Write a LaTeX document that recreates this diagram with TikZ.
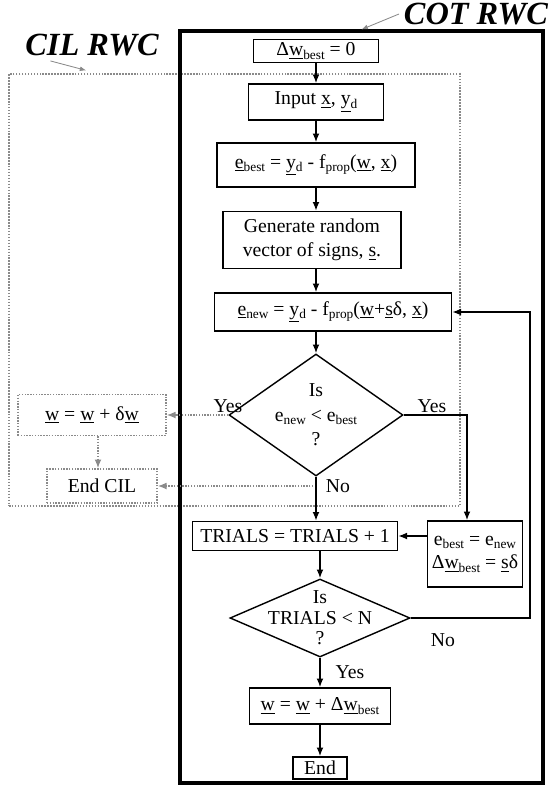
\documentclass[tikz,border=0pt]{standalone}
\usepackage{fontspec}
\setmainfont{Liberation Serif}
\usetikzlibrary{arrows.meta,positioning,shapes.geometric,calc}
\definecolor{cilgray}{HTML}{8A8A8A}
\newcommand{\sbs}[1]{\raisebox{-0.35ex}{\fontsize{9.5}{10}\selectfont #1}}
\tikzset{
  procbox/.style={rectangle, draw=black, line width=1pt, align=center,
                  inner sep=2pt, font=\fontsize{14}{17}\selectfont},
  cilbox/.style={procbox, draw=cilgray, densely dotted, line width=1pt},
  decision/.style={diamond, draw=black, line width=1pt, inner sep=0pt},
  dtext/.style={align=center, font=\fontsize{14}{17.5}\selectfont},
  lbl/.style={font=\fontsize{14}{17}\selectfont},
  rwc/.style={font=\fontsize{23}{23}\selectfont\bfseries\itshape},
  flow/.style={-{Latex[length=2.2mm,width=1.7mm]}, line width=1pt},
  cilflow/.style={flow, draw=cilgray, densely dotted, line width=1pt},
  pointer/.style={-{Latex[length=1.6mm,width=1.2mm]}, draw=cilgray, line width=0.6pt}
}
\begin{document}
\begin{tikzpicture}
\useasboundingbox (0,0) rectangle (13.775,-19.675);

% the two regions
\node[draw=cilgray, densely dotted, line width=1.1pt,
      minimum width=11.275cm, minimum height=10.8cm] (cilframe) at (5.8625,-7.25) {};
\node[draw=black, line width=2.2pt,
      minimum width=9.075cm, minimum height=18.8cm] (cotframe) at (9.0375,-10.175) {};
\node[rwc] (cillbl) at (2.3,-1.125) {CIL RWC};
\node[rwc] (cotlbl) at (11.9,-0.35) {COT RWC};
\draw[pointer] ([xshift=0.75cm]cillbl.south west) -- ([xshift=1.95cm,yshift=2pt]cilframe.north west);
\draw[pointer] (cotlbl.west) -- (cotframe.north);

% main loop
\node[procbox, minimum width=3.125cm, minimum height=0.575cm] (dw0) at (7.9,-1.275)
  {Δ\underline{w}\sbs{best} = 0};
\node[procbox, minimum width=3.375cm, minimum height=0.9cm] (input) at (7.9,-2.55)
  {Input \underline{x}, \underline{y}\sbs{d}};
\node[procbox, minimum width=4.95cm, minimum height=1.1cm] (ebest) at (7.9,-4.125)
  {\underline{e}\sbs{best} = \underline{y}\sbs{d} - f\sbs{prop}(\underline{w}, \underline{x})};
\node[procbox, minimum width=4.45cm, minimum height=1.425cm] (gen) at (7.8,-6.0)
  {Generate random\\vector of signs, \underline{s}.};
\node[procbox, minimum width=5.925cm, minimum height=0.95cm] (enew) at (8.325,-7.8)
  {\underline{e}\sbs{new} = \underline{y}\sbs{d} - f\sbs{prop}(\underline{w}+\underline{s}δ, \underline{x})};
\node[decision, minimum width=4.35cm, minimum height=3.05cm] (dia1) at (7.9,-10.375) {};
\node[dtext] (dia1t) at (dia1) {Is\\e\sbs{new} < e\sbs{best}\\?};

% CIL exit
\node[cilbox, minimum width=3.7cm, minimum height=1.025cm] (wd) at (2.3,-10.375)
  {\underline{w} = \underline{w} + δ\underline{w}};
\node[cilbox, minimum width=2.75cm, minimum height=0.85cm] (endcil) at (2.55,-12.15)
  {End CIL};

% COT part
\node[procbox, minimum width=5.125cm, minimum height=0.725cm] (trials) at (7.375,-13.4)
  {TRIALS = TRIALS + 1};
\node[procbox, minimum width=2.375cm, minimum height=1.65cm] (ebest2) at (11.875,-13.85)
  {e\sbs{best} = e\sbs{new}\\Δ\underline{w}\sbs{best} = \underline{s}δ};
\node[decision, minimum width=4.5cm, minimum height=1.95cm] (dia2) at (8.0,-15.45) {};
\node[dtext, font=\fontsize{14}{14.5}\selectfont] (dia2t) at (dia2) {Is\\TRIALS < N\\?};
\node[procbox, minimum width=3.525cm, minimum height=0.9cm] (wfin) at (8.0,-17.65)
  {\underline{w} = \underline{w} + Δ\underline{w}\sbs{best}};
\node[procbox, minimum width=1.35cm, minimum height=0.55cm] (fin) at (8.0,-19.2) {End};

% branch labels
\node[lbl] (yesl) at (5.7,-10.15) {Yes};
\node[lbl] (yesr) at (10.8,-10.15) {Yes};
\node[lbl] (nol) at (8.45,-12.15) {No};
\node[lbl] (nor) at (11.075,-16.0) {No};
\node[lbl] (yesb) at (8.75,-16.8) {Yes};

% connectors
\draw[flow] (dw0) -- (input);
\draw[flow] (input) -- (ebest);
\draw[flow] (ebest.south) -- (ebest.south |- gen.north);
\draw[flow] (ebest.south |- gen.south) -- (ebest.south |- enew.north);
\draw[flow] (dia1.north |- enew.south) -- (dia1.north);
\draw[cilflow] (dia1.west) -- (wd.east);
\draw[cilflow] ([xshift=0.15cm]wd.south) -- ([xshift=0.15cm]wd.south |- endcil.north);
\coordinate (nobranch) at (dia1.south |- endcil.east);
\draw[cilflow] (nobranch) -- (endcil.east);
\draw[flow] (dia1.south) -- (dia1.south |- trials.north);
\draw[flow] (dia1.east) -| ([xshift=-0.2cm]ebest2.north);
\draw[flow] (ebest2.west |- trials.east) -- (trials.east);
\draw[flow] (dia2.north |- trials.south) -- (dia2.north);
\coordinate (fbturn) at (13.25,-7.8);
\draw[flow] (dia2.east) -| (fbturn) -- (enew.east);
\draw[flow] (dia2) -- (wfin);
\draw[flow] (wfin) -- (fin);
\end{tikzpicture}
\end{document}
